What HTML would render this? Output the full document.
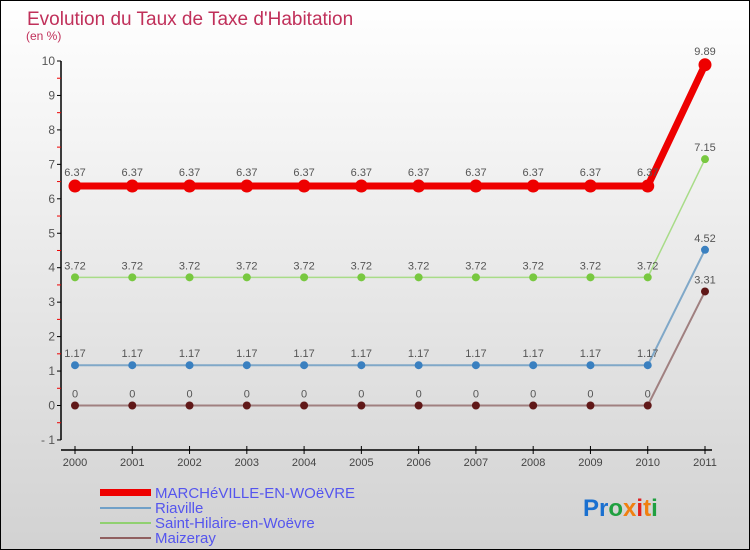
<!DOCTYPE html>
<html><head><meta charset="utf-8"><style>
body{margin:0}
#c{width:750px;height:550px;position:relative;overflow:hidden}
text{font-family:"Liberation Sans",sans-serif}
</style></head><body>
<div id="c">
<svg id="s" width="750" height="550" xmlns="http://www.w3.org/2000/svg">
<defs><linearGradient id="bg" x1="0" y1="0" x2="0" y2="1"><stop offset="0" stop-color="#ffffff"/><stop offset="1" stop-color="#d2d2d2"/></linearGradient></defs>
<rect x="0.5" y="0.5" width="749" height="549" fill="url(#bg)" stroke="#000"/>
<text x="27" y="25" font-size="19" fill="#c0305a">Evolution du Taux de Taxe d'Habitation</text>
<text x="26" y="40" font-size="12" fill="#c0305a">(en %)</text>
<g id="axes"></g><g id="plot"></g>
<g>
<g><rect x="100" y="489" width="51" height="7" fill="#e00"/><text x="155" y="498" font-size="15" fill="#5555ee">MARCHéVILLE-EN-WOëVRE</text></g>
<g><rect x="100" y="507" width="51" height="2" fill="#70a0c8"/><text x="155" y="513" font-size="15" fill="#5555ee">Riaville</text></g>
<g><rect x="100" y="522" width="51" height="2" fill="#90d070"/><text x="155" y="528" font-size="15" fill="#5555ee">Saint-Hilaire-en-Woëvre</text></g>
<g><rect x="100" y="537" width="51" height="2" fill="#906060"/><text x="155" y="543" font-size="15" fill="#5555ee">Maizeray</text></g>
</g>
<g font-size="24" font-weight="bold">
<text x="583" y="516"><tspan fill="#1a70d0">Pr</tspan><tspan fill="#20a040">o</tspan><tspan fill="#f08010">x</tspan><tspan fill="#e02020">i</tspan><tspan fill="#f08010">t</tspan><tspan fill="#20a040">i</tspan></text>
</g>
</svg></div>
<script>
const years=[2000,2001,2002,2003,2004,2005,2006,2007,2008,2009,2010,2011];
const yTicks=[-1,0,1,2,3,4,5,6,7,8,9,10];
const marcheville=[6.37,6.37,6.37,6.37,6.37,6.37,6.37,6.37,6.37,6.37,6.37,9.89];
const riaville=[1.17,1.17,1.17,1.17,1.17,1.17,1.17,1.17,1.17,1.17,1.17,4.52];
const saintHilaire=[3.72,3.72,3.72,3.72,3.72,3.72,3.72,3.72,3.72,3.72,3.72,7.15];
const maizeray=[0,0,0,0,0,0,0,0,0,0,0,3.31];
const NS="http://www.w3.org/2000/svg";
const X=i=>75+i*(705-75)/(years.length-1);
const Y=v=>405.5-v*34.45;
function mk(tag,attrs,parent){const e=document.createElementNS(NS,tag);for(const k in attrs)e.setAttribute(k,attrs[k]);parent.appendChild(e);return e;}
const ax=document.getElementById('axes'),pl=document.getElementById('plot');
const yl=mk('line',{x1:61,y1:Y(10),x2:61,y2:Y(-1),stroke:'#000','stroke-width':1.5},ax);


yTicks.forEach(t=>{
 mk('line',{x1:57,x2:61,y1:Y(t),y2:Y(t),stroke:'#000'},ax);
 if(t<10) mk('line',{x1:57,x2:61,y1:Y(t+0.5),y2:Y(t+0.5),stroke:'#e00'},ax);
 const tx=mk('text',{x:55,y:Y(t)+4,'text-anchor':'end','font-size':12,fill:'#555'},ax);tx.textContent=t===-1?'- 1':t;
 
 
});
const xl=mk('line',{x1:61,y1:450,x2:712,y2:450,stroke:'#000','stroke-width':1.5},ax);


years.forEach((y,i)=>{
 mk('line',{x1:X(i),x2:X(i),y1:446,y2:454,stroke:'#000'},ax);
 const tx=mk('text',{x:X(i),y:466,'text-anchor':'middle','font-size':11,fill:'#444'},ax);tx.textContent=y;
 
 
});
function series(vals,line,dot,lw,r,name,lblOff){
 const g=mk('g',{},pl);
 
 
 mk('polyline',{points:vals.map((v,i)=>X(i)+','+Y(v)).join(' '),fill:'none',stroke:line,'stroke-width':lw},g);
 vals.forEach((v,i)=>{
  const c=mk('circle',{cx:X(i),cy:Y(v),r:r,fill:dot},g);
  
  
  const t=mk('text',{x:X(i),y:Y(v)-lblOff,'text-anchor':'middle','font-size':11,fill:'#555'},g);t.textContent=String(v);
 });
}
series(maizeray,'#a08080','#601818',2,4,'series-maizeray',8);
series(riaville,'#80a8c8','#3a80c0',2,4,'series-riaville',8);
series(saintHilaire,'#a8dc88','#78c840',1.5,4,'series-saint-hilaire',8);
series(marcheville,'#e00','#e00',7,6.5,'series-marcheville',10);
</script>
</body></html>
